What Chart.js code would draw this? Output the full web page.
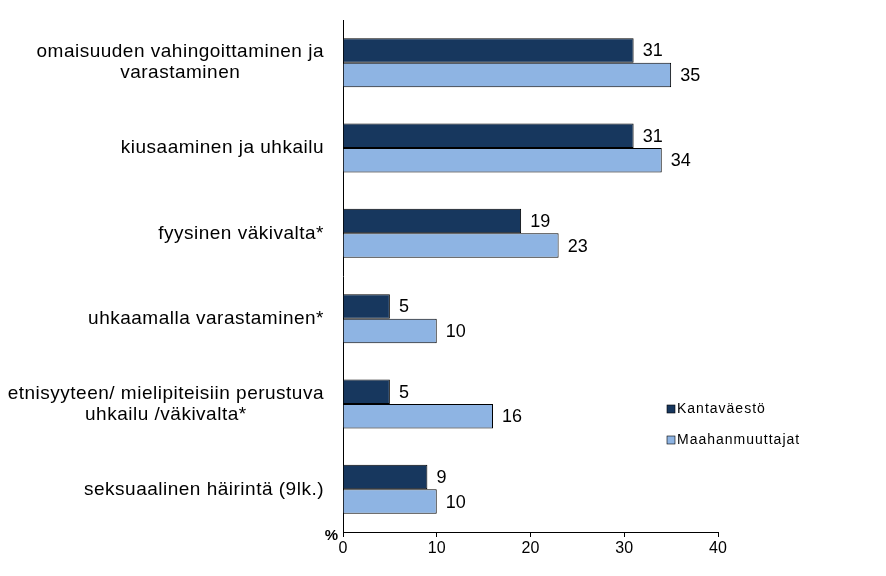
<!DOCTYPE html>
<html>
<head>
<meta charset="utf-8">
<script src="https://cdn.jsdelivr.net/npm/chart.js@4/dist/chart.umd.min.js"></script>
<style>
  html, body { margin: 0; padding: 0; background: #fff; }
  #wrap { width: 886px; height: 576px; }
</style>
</head>
<body>
<div id="wrap"><canvas id="graph" width="886" height="576"></canvas></div>
<script>
// categories (multi-line labels)
var categories = [
    ["omaisuuden vahingoittaminen ja", "varastaminen"],
    ["kiusaaminen ja uhkailu"],
    ["fyysinen väkivalta*"],
    ["uhkaamalla varastaminen*"],
    ["etnisyyteen/ mielipiteisiin perustuva", "uhkailu /väkivalta*"],
    ["seksuaalinen häirintä (9lk.)"]
];
var kantavaesto = [31, 31, 19, 5, 5, 9];
var maahanmuuttajat = [35, 34, 23, 10, 16, 10];
var seriesNames = ["Kantaväestö", "Maahanmuuttajat"];
var xTicks = [0, 10, 20, 30, 40];

var FONT = "'Liberation Sans', Arial, sans-serif";

var labelsPlugin = {
    id: "labels",
    afterDraw: function(chart) {
        var ctx = chart.ctx;
        var yScale = chart.scales.y;
        var area = chart.chartArea;
        ctx.save();
        ctx.fillStyle = "#000";

        // category labels: block right-aligned, lines centred inside the block
        ctx.font = "19px " + FONT;
        ctx.letterSpacing = "0.5px";
        ctx.textBaseline = "middle";
        ctx.textAlign = "center";
        var lineH = 21;
        categories.forEach(function(lines, i) {
            var cy = yScale.getPixelForValue(i);
            var maxW = 0;
            lines.forEach(function(l) { maxW = Math.max(maxW, ctx.measureText(l).width); });
            var cx = area.left - 19 - maxW / 2;
            var y0 = cy - (lines.length - 1) * lineH / 2;
            lines.forEach(function(l, j) { ctx.fillText(l, cx, y0 + j * lineH); });
        });

        // value labels
        ctx.letterSpacing = "0px";
        ctx.font = "18px " + FONT;
        ctx.textAlign = "left";
        chart.data.datasets.forEach(function(ds, di) {
            var meta = chart.getDatasetMeta(di);
            meta.data.forEach(function(bar, i) {
                ctx.fillText(String(ds.data[i]), bar.x + 9, bar.y + 1);
            });
        });

        // % label
        ctx.font = "bold 15px " + FONT;
        ctx.textAlign = "right";
        ctx.fillText("%", area.left - 5, area.bottom + 4);

        // legend
        ctx.font = "14px " + FONT;
        ctx.letterSpacing = "1px";
        ctx.textAlign = "left";
        chart.data.datasets.forEach(function(ds, di) {
            var y = 409 + di * 31;
            ctx.fillStyle = ds.backgroundColor;
            ctx.fillRect(667, y - 4, 8, 8);
            ctx.strokeStyle = "#000";
            ctx.lineWidth = 0.6;
            ctx.strokeRect(667, y - 4, 8, 8);
            ctx.fillStyle = "#000";
            ctx.fillText(seriesNames[di], 677, y);
        });
        ctx.restore();
    }
};

new Chart(document.getElementById("graph").getContext("2d"), {
    type: "bar",
    data: {
        labels: categories,
        datasets: [
            {
                label: seriesNames[0],
                data: kantavaesto,
                backgroundColor: "#17375E",
                borderColor: "#000000",
                borderWidth: 1
            },
            {
                label: seriesNames[1],
                data: maahanmuuttajat,
                backgroundColor: "#8EB4E3",
                borderColor: "#000000",
                borderWidth: 1
            }
        ]
    },
    options: {
        indexAxis: "y",
        responsive: false,
        animation: false,
        layout: { padding: { top: 20, right: 168, left: 0, bottom: 0 } },
        categoryPercentage: 0.575,
        barPercentage: 1,
        plugins: {
            legend: { display: false },
            tooltip: { enabled: false }
        },
        scales: {
            x: {
                min: 0,
                max: 40,
                afterBuildTicks: function(scale) {
                    scale.ticks = xTicks.map(function(v) { return { value: v }; });
                },
                afterFit: function(scale) { scale.height = 44; },
                border: { display: true, color: "#000", width: 1 },
                grid: { display: true, drawOnChartArea: false, drawTicks: true, tickLength: 5, color: "#000" },
                ticks: { color: "#000", font: { family: FONT, size: 16 }, padding: 2, maxRotation: 0 }
            },
            y: {
                afterFit: function(scale) { scale.width = 343; },
                border: { display: true, color: "#000", width: 1 },
                grid: { display: false },
                ticks: { display: false }
            }
        }
    },
    plugins: [labelsPlugin]
});
</script>
</body>
</html>
